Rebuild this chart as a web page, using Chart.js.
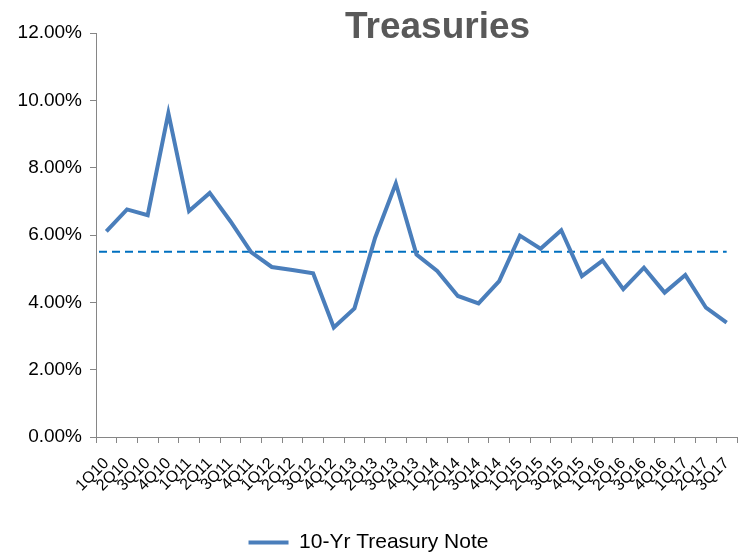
<!DOCTYPE html>
<html>
<head>
<meta charset="utf-8">
<script src="https://cdn.jsdelivr.net/npm/chart.js@4/dist/chart.umd.min.js"></script>
<style>
  html, body { margin: 0; padding: 0; background: #fff; }
  #wrap { width: 740px; height: 558px; }
</style>
</head>
<body>
<div id="wrap"><canvas id="treasuryChart" width="740" height="558"></canvas></div>
<script>
const quarters = ['1Q10','2Q10','3Q10','4Q10','1Q11','2Q11','3Q11','4Q11','1Q12','2Q12','3Q12','4Q12',
    '1Q13','2Q13','3Q13','4Q13','1Q14','2Q14','3Q14','4Q14','1Q15','2Q15','3Q15','4Q15',
    '1Q16','2Q16','3Q16','4Q16','1Q17','2Q17','3Q17'];
const treasuryNote = [6.11, 6.76, 6.59, 9.62, 6.71, 7.25, 6.41, 5.49, 5.05, 4.96, 4.86, 3.25,
    3.82, 5.92, 7.53, 5.42, 4.93, 4.19, 3.97, 4.63, 5.98, 5.59, 6.14, 4.78,
    5.24, 4.39, 5.03, 4.29, 4.81, 3.84, 3.40];
const averageLevel = 5.5;
const yTicks = [0, 2, 4, 6, 8, 10, 12];

// Title + dashed average line
const extras = {
    id: 'extras',
    beforeDatasetsDraw(chart) {
        const { ctx, chartArea, scales } = chart;
        const y = scales.y.getPixelForValue(averageLevel);
        const xEnd = scales.x.getPixelForValue(quarters.length - 1);
        ctx.save();
        ctx.strokeStyle = '#0070C0';
        ctx.lineWidth = 2;
        ctx.setLineDash([8, 5]);
        ctx.beginPath();
        ctx.moveTo(chartArea.left + 3, y);
        ctx.lineTo(xEnd, y);
        ctx.stroke();
        ctx.restore();
    },
    afterDraw(chart) {
        const { ctx, chartArea } = chart;
        ctx.save();
        ctx.font = 'bold 37px "Liberation Sans", Arial, sans-serif';
        ctx.fillStyle = '#595959';
        ctx.textAlign = 'center';
        ctx.textBaseline = 'alphabetic';
        ctx.fillText('Treasuries', (chartArea.left + chartArea.right) / 2 + 21, 38);
        ctx.restore();
    }
};

new Chart(document.getElementById('treasuryChart'), {
    type: 'line',
    data: {
        labels: quarters,
        datasets: [{
            label: '10-Yr Treasury Note',
            data: treasuryNote,
            borderColor: '#4A7EBB',
            backgroundColor: '#4A7EBB',
            borderWidth: 4,
            pointRadius: 0,
            tension: 0
        }]
    },
    options: {
        responsive: false,
        animation: false,
        devicePixelRatio: 1,
        layout: { padding: { top: 33, right: 3, bottom: -5, left: 0 } },
        plugins: {
            tooltip: { enabled: false },
            legend: {
                position: 'bottom',
                labels: {
                    usePointStyle: true,
                    pointStyle: 'line',
                    pointStyleWidth: 40,
                    color: '#000',
                    padding: 0,
                    font: { family: '"Liberation Sans", Arial, sans-serif', size: 21 }
                }
            }
        },
        scales: {
            x: {
                offset: true,
                afterFit(scale) {
                    scale.height = 95;
                    scale.paddingLeft = 0;
                    scale.paddingRight = 0;
                },
                grid: { offset: true, drawOnChartArea: false, color: '#868686', tickLength: 6 },
                border: { color: '#868686', width: 1 },
                ticks: {
                    autoSkip: false,
                    maxRotation: 45,
                    minRotation: 45,
                    color: '#000',
                    padding: 11,
                    font: { family: '"Liberation Sans", Arial, sans-serif', size: 16 }
                }
            },
            y: {
                min: 0,
                max: 12,
                afterFit(scale) { scale.width = 96; },
                afterBuildTicks(scale) { scale.ticks = yTicks.map(v => ({ value: v })); },
                grid: { drawOnChartArea: false, color: '#868686', tickLength: 6 },
                border: { color: '#868686', width: 1 },
                ticks: {
                    color: '#000',
                    padding: 8,
                    font: { family: '"Liberation Sans", Arial, sans-serif', size: 19 },
                    callback: v => v.toFixed(2) + '%'
                }
            }
        }
    },
    plugins: [extras]
});
</script>
</body>
</html>
